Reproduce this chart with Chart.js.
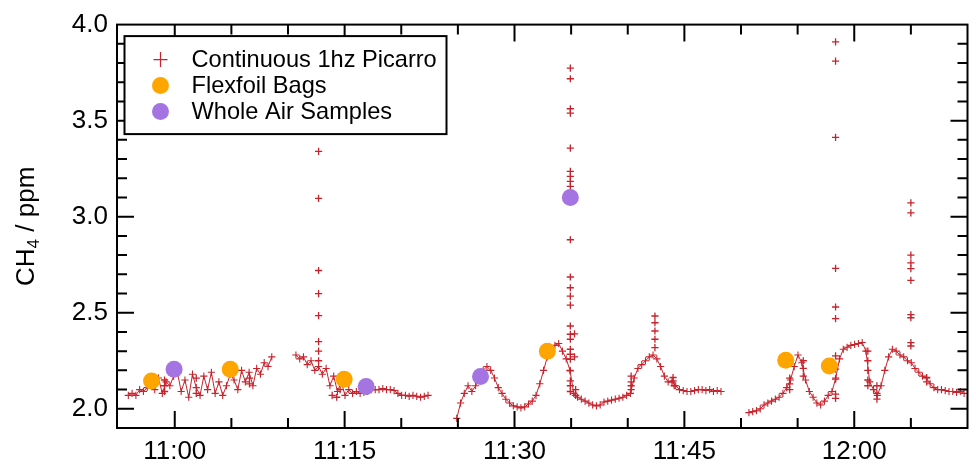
<!DOCTYPE html>
<html>
<head>
<meta charset="utf-8">
<script src="https://cdn.jsdelivr.net/npm/chart.js@4.4.1/dist/chart.umd.min.js"></script>
<style>
  html, body { margin: 0; padding: 0; background: #fff; }
  #wrap { position: relative; width: 976px; height: 466px; }
</style>
</head>
<body>
<div id="wrap"><canvas id="c"></canvas></div>
<script>
// ---- data (time in minutes after midnight, CH4 in ppm) ----
const seriesNames = ['Continuous 1hz Picarro', 'Flexfoil Bags', 'Whole Air Samples'];

const xTickValues = [660, 675, 690, 705, 720];
const xTickLabels = ['11:00', '11:15', '11:30', '11:45', '12:00'];
const yTickValues = [2.0, 2.5, 3.0, 3.5, 4.0];
const yTickLabels = ['2.0', '2.5', '3.0', '3.5', '4.0'];

// Picarro trace, shown every 20 s (1/3 min) in four continuous segments
const picarroStep = 1 / 3;
const segmentStarts = [655.9, 670.7, 684.9, 710.7];
const segment1 = [2.07, 2.08, 2.07, 2.10, 2.09, 2.11, 2.13, 2.10, 2.16, 2.08,
  2.14, 2.12, 2.17, 2.19, 2.09, 2.15, 2.06, 2.18, 2.11, 2.07,
  2.17, 2.10, 2.19, 2.08, 2.14, 2.07, 2.12, 2.18, 2.15, 2.10,
  2.20, 2.14, 2.19, 2.12, 2.21, 2.18, 2.24, 2.22, 2.27];
const segment2 = [2.28, 2.26, 2.27, 2.23, 2.25, 2.20, 2.22, 2.18, 2.21, 2.12,
  2.17, 2.09, 2.14, 2.07, 2.10, 2.08, 2.09, 2.08, 2.085, 2.09,
  2.10, 2.10, 2.10, 2.105, 2.10, 2.10, 2.095, 2.08, 2.07, 2.07,
  2.065, 2.07, 2.065, 2.06, 2.065, 2.07];
const segment3 = [1.95, 2.03, 2.08, 2.12, 2.09, 2.12, 2.16, 2.20, 2.22, 2.20,
  2.16, 2.11, 2.08, 2.05, 2.03, 2.015, 2.01, 2.005, 2.01, 2.025,
  2.04, 2.07, 2.13, 2.20, 2.27, 2.31, 2.33, 2.34, 2.30, 2.26,
  2.20, 2.08, 2.06, 2.05, 2.04, 2.03, 2.02, 2.015, 2.02, 2.035,
  2.04, 2.045, 2.05, 2.055, 2.06, 2.07, 2.08, 2.16, 2.21, 2.23,
  2.25, 2.27, 2.28, 2.26, 2.22, 2.17, 2.14, 2.14, 2.12, 2.10,
  2.095, 2.09, 2.09, 2.095, 2.10, 2.10, 2.095, 2.10, 2.09, 2.095,
  2.09];
const segment4 = [1.98, 1.985, 1.99, 2.00, 2.02, 2.03, 2.04, 2.05, 2.06, 2.08,
  2.11, 2.15, 2.22, 2.28, 2.24, 2.15, 2.09, 2.06, 2.03, 2.02,
  2.04, 2.07, 2.09, 2.16, 2.26, 2.31, 2.32, 2.33, 2.335, 2.34,
  2.345, 2.30, 2.14, 2.10, 2.07, 2.12, 2.20, 2.27, 2.31, 2.30,
  2.28, 2.27, 2.25, 2.24, 2.21, 2.19, 2.17, 2.16, 2.13, 2.11,
  2.10, 2.10, 2.095, 2.09, 2.09, 2.085, 2.09, 2.08];
const segments = [segment1, segment2, segment3, segment4];

// isolated Picarro readings (spikes and scattered points)
const spikeTimes = [
  659.1, 659.1, 659.1, 661.9, 661.9, 666.6, 666.6,
  672.7, 672.7, 672.7, 672.7, 672.7, 672.7, 672.7, 672.7,
  673.9, 674.3, 674.6,
  694.93, 694.93, 694.93, 694.93, 694.93, 694.93, 694.93, 694.93, 694.93, 694.93,
  694.93, 694.93, 694.93, 694.93, 694.93, 694.93, 694.93, 694.93, 694.93, 694.93,
  694.93, 694.93, 694.93, 694.93,
  695.3, 695.3, 695.4, 695.4,
  700.3, 700.3, 700.3, 700.3,
  702.4, 702.4, 702.4, 702.4, 702.4,
  704.0, 704.0, 704.1,
  714.3, 714.3, 714.3, 715.5, 715.5, 715.5,
  718.35, 718.35, 718.35, 718.35, 718.35, 718.35, 718.35, 718.35, 718.35, 718.35, 718.35,
  721.2, 721.2, 721.2, 721.2, 721.2, 722.0, 722.0, 722.0,
  725.0, 725.0, 725.0, 725.0, 725.0, 725.0, 725.0, 725.0, 725.0, 725.0,
  726.4, 726.4];
const spikeValues = [
  2.09, 2.12, 2.15, 2.16, 2.08, 2.13, 2.16,
  3.34, 3.095, 2.72, 2.60, 2.485, 2.35, 2.30, 2.25,
  2.07, 2.06, 2.10,
  3.773, 3.718, 3.562, 3.539, 3.357, 3.236, 3.21, 3.184, 3.158, 2.88,
  2.686, 2.63, 2.587, 2.54, 2.431, 2.388, 2.362, 2.31, 2.284, 2.258,
  2.197, 2.145, 2.12, 2.09,
  2.39, 2.27, 2.10, 2.07,
  2.10, 2.12, 2.14, 2.17,
  2.483, 2.448, 2.405, 2.362, 2.318,
  2.145, 2.163, 2.12,
  2.10, 2.13, 2.16, 2.25, 2.21, 2.17,
  3.91, 3.81, 3.413, 2.731, 2.53, 2.469, 2.275, 2.206, 2.154, 2.076, 2.054,
  2.30, 2.25, 2.20, 2.15, 2.12, 2.12, 2.08, 2.05,
  3.072, 3.02, 2.80, 2.76, 2.73, 2.669, 2.49, 2.474, 2.344, 2.327,
  2.163, 2.14];

const flexfoilTimes = [657.95, 664.9, 674.96, 692.9, 713.95, 717.8];
const flexfoilValues = [2.145, 2.206, 2.154, 2.30, 2.253, 2.223];

const wasTimes = [659.94, 676.9, 687.0, 694.93];
const wasValues = [2.206, 2.116, 2.168, 3.10];

// ---- build datasets ----
const RED = '#c8232c', ORANGE = '#ffa500', PURPLE = '#a474e2';
const FONT = '"Liberation Sans", Arial, sans-serif';

const segmentDatasets = segments.map((vals, s) => ({
  label: seriesNames[0],
  data: vals.map((v, i) => ({ x: segmentStarts[s] + i * picarroStep, y: v })),
  order: 3,
  showLine: true, borderColor: RED, borderWidth: 1,
  pointStyle: 'cross', pointRadius: 3.6, pointBorderColor: RED, pointBorderWidth: 1.1
}));
const spikeDataset = {
  label: seriesNames[0],
  data: spikeTimes.map((t, i) => ({ x: t, y: spikeValues[i] })),
  order: 2, showLine: false,
  pointStyle: 'cross', pointRadius: 3.6, pointBorderColor: RED, pointBorderWidth: 1.3
};
const flexPoints = flexfoilTimes.map((t, i) => ({ x: t, y: flexfoilValues[i] }));
const wasPoints = wasTimes.map((t, i) => ({ x: t, y: wasValues[i] }));

const frameTicks = {
  id: 'frameTicks',
  afterDatasetsDraw(chart) {
    const { ctx, chartArea: a, scales: { x, y } } = chart;
    ctx.save();
    ctx.strokeStyle = '#000';
    ctx.lineWidth = 2;
    ctx.beginPath();
    for (let m = 655; m <= 730; m += 5) {
      const px = x.getPixelForValue(m);
      if (px < a.left + 2 || px > a.right - 2) continue;
      const len = xTickValues.includes(m) ? 17 : 10;
      ctx.moveTo(px, a.bottom); ctx.lineTo(px, a.bottom - len);
      ctx.moveTo(px, a.top); ctx.lineTo(px, a.top + len);
    }
    for (let k = 19; k <= 40; k++) {
      const py = y.getPixelForValue(k / 10);
      if (py < a.top + 2 || py > a.bottom - 2) continue;
      const len = k % 5 === 0 ? 17 : 10;
      ctx.moveTo(a.left, py); ctx.lineTo(a.left + len, py);
      ctx.moveTo(a.right, py); ctx.lineTo(a.right - len, py);
    }
    ctx.stroke();
    ctx.strokeRect(a.left, a.top, a.right - a.left, a.bottom - a.top);
    ctx.restore();
  }
};

const legendBox = {
  id: 'legendBox',
  afterDraw(chart) {
    const { ctx, chartArea: a } = chart;
    const bx = a.left + 7.5, by = a.top + 11.5, bw = 322, bh = 98;
    ctx.save();
    ctx.fillStyle = '#fff';
    ctx.fillRect(bx, by, bw, bh);
    ctx.strokeStyle = '#000';
    ctx.lineWidth = 2;
    ctx.strokeRect(bx, by, bw, bh);
    const mx = bx + 36, tx = bx + 67;
    const rows = [by + 23.5, by + 49.5, by + 75.5];
    ctx.strokeStyle = RED; ctx.lineWidth = 1.2;
    ctx.beginPath();
    ctx.moveTo(mx - 7, rows[0]); ctx.lineTo(mx + 7, rows[0]);
    ctx.moveTo(mx, rows[0] - 7.5); ctx.lineTo(mx, rows[0] + 7.5);
    ctx.stroke();
    ctx.fillStyle = ORANGE;
    ctx.beginPath(); ctx.arc(mx, rows[1], 8.5, 0, Math.PI * 2); ctx.fill();
    ctx.fillStyle = PURPLE;
    ctx.beginPath(); ctx.arc(mx, rows[2], 8.5, 0, Math.PI * 2); ctx.fill();
    ctx.fillStyle = '#000';
    ctx.font = '23.6px ' + FONT;
    ctx.textBaseline = 'middle';
    ctx.textAlign = 'left';
    seriesNames.forEach((n, i) => ctx.fillText(n, tx, rows[i] + 1));
    ctx.restore();
  }
};

const yTitle = {
  id: 'yTitle',
  afterDraw(chart) {
    const { ctx, chartArea: a } = chart;
    ctx.save();
    ctx.translate(27, (a.top + a.bottom) / 2);
    ctx.rotate(-Math.PI / 2);
    ctx.fillStyle = '#000';
    ctx.textBaseline = 'middle';
    ctx.textAlign = 'left';
    const big = '26px ' + FONT, small = '17px ' + FONT;
    ctx.font = big; const w1 = ctx.measureText('CH').width;
    ctx.font = small; const w2 = ctx.measureText('4').width;
    ctx.font = big; const w3 = ctx.measureText(' / ppm').width;
    const x0 = -(w1 + w2 + w3) / 2;
    ctx.font = big; ctx.fillText('CH', x0, 0);
    ctx.font = small; ctx.fillText('4', x0 + w1, 7);
    ctx.font = big; ctx.fillText(' / ppm', x0 + w1 + w2, 0);
    ctx.restore();
  }
};

new Chart(document.getElementById('c'), {
  type: 'scatter',
  data: {
    datasets: [
      { label: seriesNames[2], data: wasPoints, order: 0,
        pointStyle: 'circle', pointRadius: 8.5, pointBackgroundColor: PURPLE, pointBorderWidth: 0 },
      { label: seriesNames[1], data: flexPoints, order: 1,
        pointStyle: 'circle', pointRadius: 8.5, pointBackgroundColor: ORANGE, pointBorderWidth: 0 },
      spikeDataset,
      ...segmentDatasets
    ]
  },
  options: {
    responsive: true,
    maintainAspectRatio: false,
    animation: false,
    events: [],
    layout: { padding: { left: 0, right: 1, top: 23, bottom: 0 } },
    plugins: { legend: { display: false }, tooltip: { enabled: false } },
    scales: {
      x: {
        type: 'linear', position: 'bottom', min: 654.9, max: 730,
        grid: { display: false, drawTicks: false }, border: { display: false },
        afterBuildTicks: s => { s.ticks = xTickValues.map(v => ({ value: v })); },
        afterFit: s => { s.height = 38; },
        ticks: {
          padding: 8, color: '#000', maxRotation: 0, autoSkip: false,
          font: { family: FONT, size: 26 },
          callback: v => xTickLabels[xTickValues.indexOf(v)] ?? ''
        }
      },
      y: {
        type: 'linear', min: 1.9, max: 4.0,
        grid: { display: false, drawTicks: false }, border: { display: false },
        afterBuildTicks: s => { s.ticks = yTickValues.map(v => ({ value: v })); },
        afterFit: s => { s.width = 117; },
        ticks: {
          padding: 9, color: '#000',
          font: { family: FONT, size: 26 },
          callback: v => yTickLabels[yTickValues.indexOf(v)] ?? ''
        }
      }
    }
  },
  plugins: [frameTicks, legendBox, yTitle]
});
</script>
</body>
</html>
